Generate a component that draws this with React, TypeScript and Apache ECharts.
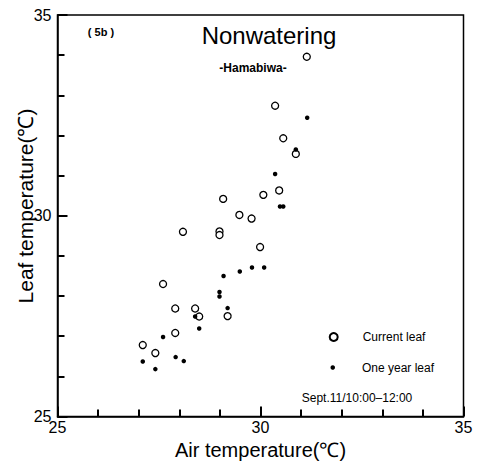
import React, { useEffect, useRef } from "react";
import * as echarts from "echarts";

const FONT = "'Liberation Sans', Arial, Helvetica, sans-serif";

// Current leaf (open circles): [air temperature, leaf temperature]
const currentLeaf: [number, number][] = [
  [31.14, 33.96],
  [30.36, 32.74],
  [30.56, 31.93],
  [30.87, 31.54],
  [30.07, 30.52],
  [30.46, 30.63],
  [29.08, 30.42],
  [29.48, 30.02],
  [29.78, 29.93],
  [28.99, 29.61],
  [28.99, 29.52],
  [28.09, 29.6],
  [29.99, 29.22],
  [27.6, 28.3],
  [27.9, 27.69],
  [28.39, 27.69],
  [28.49, 27.49],
  [29.19, 27.5],
  [27.9, 27.08],
  [27.1, 26.78],
  [27.41, 26.58],
];

// One year leaf (filled dots)
const oneYearLeaf: [number, number][] = [
  [31.15, 32.44],
  [30.87, 31.65],
  [30.36, 31.04],
  [30.48, 30.23],
  [30.56, 30.23],
  [29.09, 28.5],
  [29.49, 28.61],
  [29.79, 28.71],
  [30.09, 28.71],
  [28.99, 28.1],
  [28.99, 27.99],
  [29.19, 27.7],
  [28.39, 27.49],
  [28.49, 27.19],
  [27.6, 26.98],
  [27.1, 26.37],
  [27.91, 26.48],
  [28.11, 26.38],
  [27.41, 26.18],
];

const seriesNames = ["Current leaf", "One year leaf"];
const axisRange = { min: 25, max: 35, step: 5, minorSplit: 5 };
const titleText = "Nonwatering";
const subText = "-Hamabiwa-";
const panelText = "( 5b )";
const periodText = "Sept.11/10:00\u201312:00";
const xName = "Air temperature(\u2103)";
const yName = "Leaf temperature(\u2103)";

export default function App() {
  const ref = useRef<HTMLDivElement>(null);
  useEffect(() => {
    if (!ref.current) return;
    const chart = echarts.init(ref.current, null, { renderer: "svg" });
    const tickAxis = (extra: any) => ({
      type: "value",
      min: axisRange.min,
      max: axisRange.max,
      interval: axisRange.step,
      splitLine: { show: false },
      axisLine: { show: true, lineStyle: { color: "#000", width: 1.5 } },
      axisTick: { show: true, inside: true, length: 10, lineStyle: { color: "#000", width: 2 } },
      minorTick: {
        show: true,
        splitNumber: axisRange.minorSplit,
        length: 7,
        lineStyle: { color: "#000", width: 2 },
      },
      ...extra,
    });
    chart.setOption({
      animation: false,
      backgroundColor: "#fff",
      title: [
        {
          text: titleText,
          left: 264,
          top: 18,
          textAlign: "center",
          textStyle: { fontFamily: FONT, fontSize: 24, fontWeight: "normal", color: "#000" },
        },
        {
          text: subText,
          left: 248,
          top: 57,
          textAlign: "center",
          textStyle: { fontFamily: FONT, fontSize: 12, fontWeight: "bold", color: "#000" },
        },
        {
          text: panelText,
          left: 96,
          top: 21,
          textAlign: "center",
          textStyle: { fontFamily: FONT, fontSize: 11, fontWeight: "bold", color: "#000" },
        },
        {
          text: periodText,
          left: 352,
          top: 387,
          textAlign: "center",
          textStyle: { fontFamily: FONT, fontSize: 12, fontWeight: "normal", color: "#000" },
        },
      ],
      grid: {
        left: 57.5,
        right: 13.5,
        top: 15,
        bottom: 49.5,
        show: true,
        borderColor: "#000",
        borderWidth: 1.5,
      },
      xAxis: tickAxis({
        name: xName,
        nameLocation: "middle",
        nameGap: 22,
        nameTextStyle: { fontFamily: FONT, fontSize: 20, color: "#000", verticalAlign: "top" },
        axisLabel: { fontFamily: FONT, fontSize: 16, color: "#000", margin: 3 },
      }),
      yAxis: tickAxis({
        axisLabel: { fontFamily: FONT, fontSize: 16, color: "#000", margin: 6 },
      }),
      legend: [
        {
          data: [seriesNames[0]],
          left: 328.7,
          top: 331,
          padding: 0,
          itemWidth: 8,
          itemHeight: 8,
          textStyle: { fontFamily: FONT, fontSize: 12, color: "#000", padding: [0, 0, 0, 20] },
        },
        {
          data: [seriesNames[1]],
          left: 330.5,
          top: 361.5,
          padding: 0,
          itemWidth: 4.5,
          itemHeight: 4.5,
          textStyle: { fontFamily: FONT, fontSize: 12, color: "#000", padding: [0, 0, 0, 22] },
        },
      ],
      graphic: [
        {
          type: "text",
          x: 25,
          y: 206,
          rotation: Math.PI / 2,
          style: {
            text: yName,
            fontFamily: FONT,
            fontSize: 21,
            fill: "#000",
            align: "center",
            verticalAlign: "middle",
          },
        },
      ],
      series: [
        {
          name: seriesNames[0],
          type: "scatter",
          symbol: "circle",
          symbolSize: 7,
          itemStyle: { color: "#fff", borderColor: "#000", borderWidth: 1.3, opacity: 1 },
          data: currentLeaf,
          z: 2,
        },
        {
          name: seriesNames[1],
          type: "scatter",
          symbol: "circle",
          symbolSize: 4.5,
          itemStyle: { color: "#000", opacity: 1 },
          data: oneYearLeaf,
          z: 3,
        },
      ],
    });
    return () => chart.dispose();
  }, []);
  return (
    <div
      ref={ref}
      style={{ position: "fixed", left: 0, top: 0, width: 477, height: 466, background: "#fff" }}
    />
  );
}
